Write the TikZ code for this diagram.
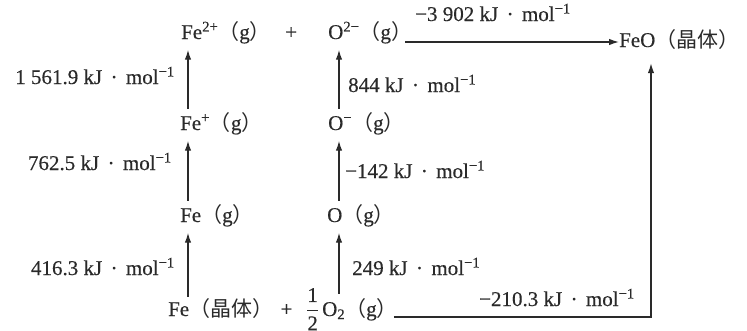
\documentclass[tikz,border=0pt]{standalone}
\usepackage{fontspec}
\usepackage{amsmath}
\setmainfont{Liberation Serif}[FakeBold=0.4]
\newfontfamily\cjk{Noto Sans CJK SC}
\usetikzlibrary{arrows.meta,calc}
\definecolor{ink}{HTML}{2A2A2A}
\newcommand{\lpar}{{\cjk （}}
\newcommand{\rpar}{{\cjk ）}}
\newcommand{\jt}{{\cjk 晶体}}
\newcommand{\kjmol}{kJ\hspace{0.4em}·\hspace{0.4em}mol\textsuperscript{−1}}
\begin{document}
\begin{tikzpicture}[x=1pt,y=-1pt,
  font=\fontsize{21}{25}\selectfont, text=ink,
  every node/.style={inner sep=0pt, anchor=base west},
  species/.style={},
  elabel/.style={},
  lbl/.style={anchor=base east},
  arr/.style={draw=ink, line width=1.3pt, -{Latex[length=10pt,width=6.5pt]}},
  ln/.style={draw=ink, line width=1.3pt}]
\useasboundingbox (0,0) rectangle (747,330);
% column coordinates
\coordinate (cfe) at (188,0);
\coordinate (co) at (339,0);
\coordinate (cfeo) at (651,0);
% species
\node[species] (fe2) at (181,39) {Fe\textsuperscript{2+}\lpar g\rpar};
\node[species] (plus) at (285,39) {+};
\node[species] (o2m) at (328,39) {O\textsuperscript{2−}\lpar g\rpar};
\node[species] (feo) at (619,47) {FeO\lpar\jt\rpar};
\node[species] (fep) at (180,130) {Fe\textsuperscript{+}\lpar g\rpar};
\node[species] (om) at (328,130) {O\textsuperscript{−}\lpar g\rpar};
\node[species] (feg) at (180,222) {Fe\lpar g\rpar};
\node[species] (og) at (327,222) {O\lpar g\rpar};
\node[species] (fecr) at (168,316) {Fe\lpar\jt\rpar\hspace{0.35em}+};
\node[species] (half) at (306,316) {$\dfrac{\text{1}}{\text{2}}$};
\node[species] (o2) at (322,316) {O\textsubscript{2}\lpar g\rpar};
% vertical arrows
\draw[arr, shorten <=3pt, shorten >=6pt] (fep.north -| cfe) -- (fe2.south -| cfe);
\draw[arr, shorten <=3pt, shorten >=6pt] (feg.north -| cfe) -- (fep.south -| cfe);
\draw[arr, shorten <=1pt, shorten >=6pt] (fecr.north -| cfe) -- (feg.south -| cfe);
\draw[arr, shorten <=3pt, shorten >=6pt] (om.north -| co) -- (o2m.south -| co);
\draw[arr, shorten <=3pt, shorten >=6pt] (og.north -| co) -- (om.south -| co);
\draw[arr, shorten <=4pt, shorten >=6pt] (o2.north -| co) -- (og.south -| co);
% horizontal arrows
\draw[arr] ([xshift=-7pt,yshift=5pt]feo.base west -| o2m.east) -- ([yshift=5pt]feo.base west);
\draw[arr, shorten >=14pt] ([xshift=-4pt,yshift=-1pt]o2.base east) -| (feo.south -| cfeo);
% energy labels
\node[lbl] (l1) at (175,84) {1 561.9 \kjmol};
\node[lbl] (l2) at (172,170) {762.5 \kjmol};
\node[lbl] (l3) at (175,275) {416.3 \kjmol};
\node[elabel] (r1) at (348,92) {844 \kjmol};
\node[elabel] (r2) at (345,178) {−142 \kjmol};
\node[elabel] (r3) at (352,275) {249 \kjmol};
\node[elabel] (t1) at (415,21) {−3 902 \kjmol};
\node[lbl] (b1) at (635,306) {−210.3 \kjmol};
\end{tikzpicture}
\end{document}
